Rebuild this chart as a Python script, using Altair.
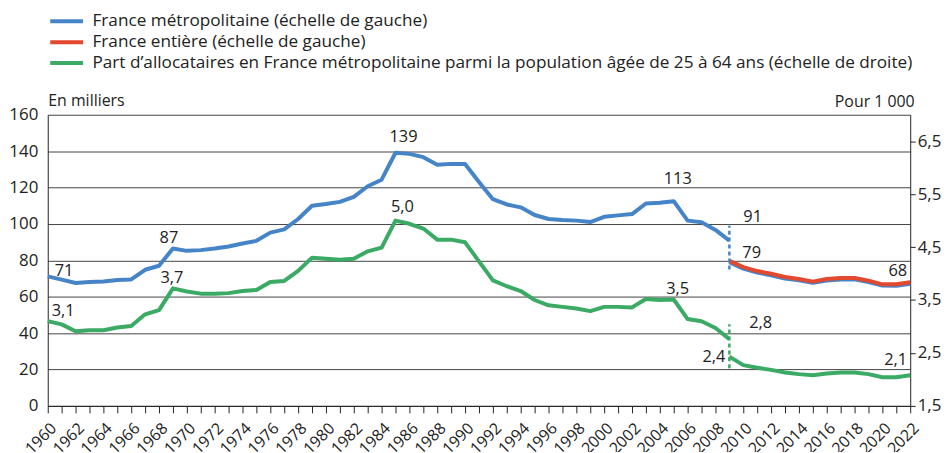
import altair as alt
import pandas as pd

# ---------------- data ----------------
SERIES = [
    "France métropolitaine (échelle de gauche)",
    "France entière (échelle de gauche)",
    "Part d’allocataires en France métropolitaine parmi la population âgée de 25 à 64 ans (échelle de droite)",
]
COLORS = ["#4684c8", "#e2492f", "#3aaa64"]

YEARS_A = list(range(1960, 2010))  # before the 2009 series break
YEARS_B = list(range(2009, 2023))  # after the 2009 series break

METRO_A = [71.2, 69.4, 67.5, 68.1, 68.4, 69.2, 69.5, 74.8, 77.0, 86.5,
           85.2, 85.6, 86.5, 87.6, 89.2, 90.7, 95.2, 97.0, 102.7, 110.0,
           110.9, 112.1, 114.9, 120.7, 124.3, 139.1, 138.5, 136.7, 132.5, 133.0,
           132.9, 123.0, 113.6, 110.7, 109.1, 104.9, 102.7, 102.1, 101.8, 101.0,
           103.9, 104.7, 105.4, 111.2, 111.6, 112.5, 101.8, 100.9, 96.7, 90.8]
METRO_B = [79.0, 75.4, 73.3, 71.8, 70.0, 69.0, 67.6, 68.9, 69.5, 69.5,
           68.0, 66.1, 66.0, 67.1]
ENTIERE_B = [79.7, 76.3, 74.1, 72.6, 70.8, 69.7, 68.3, 69.7, 70.3, 70.3,
             68.8, 66.8, 66.8, 67.9]
PART_A = [3.10, 3.04, 2.91, 2.93, 2.93, 2.98, 3.01, 3.23, 3.31, 3.72,
          3.66, 3.62, 3.62, 3.63, 3.67, 3.69, 3.84, 3.86, 4.05, 4.30,
          4.28, 4.26, 4.28, 4.42, 4.49, 5.00, 4.94, 4.85, 4.64, 4.64,
          4.59, 4.23, 3.87, 3.76, 3.67, 3.50, 3.40, 3.37, 3.34, 3.29,
          3.37, 3.37, 3.36, 3.52, 3.50, 3.51, 3.14, 3.10, 2.97, 2.76]
PART_B = [2.43, 2.27, 2.22, 2.18, 2.13, 2.10, 2.08, 2.11, 2.13, 2.13,
          2.10, 2.04, 2.04, 2.08]

BREAK_YEAR = 2009
BREAK_LEFT = [75, 99]       # extent of the dashed break marker (left scale)
BREAK_RIGHT = [2.21, 3.04]  # extent of the dashed break marker (right scale)

LEFT_LABEL_SERIES = ["metro_a", "metro_a", "metro_a", "metro_a", "metro_a", "entiere_b", "entiere_b"]
LEFT_LABEL_YEARS = [1960, 1969, 1985, 2005, 2009, 2009, 2022]
LEFT_LABEL_TEXTS = ["71", "87", "139", "113", "91", "79", "68"]

RIGHT_LABEL_SERIES = ["part_a", "part_a", "part_a", "part_a", "part_a", "part_b", "part_b"]
RIGHT_LABEL_YEARS = [1960, 1969, 1985, 2005, 2009, 2009, 2022]
RIGHT_LABEL_TEXTS = ["3,1", "3,7", "5,0", "3,5", "2,8", "2,4", "2,1"]

LEFT_TICKS = [0, 20, 40, 60, 80, 100, 120, 140, 160]
RIGHT_TICKS = [1.5, 2.5, 3.5, 4.5, 5.5, 6.5]
ALL_YEARS = list(range(1960, 2023))

# ---------------- styles ----------------
FONT = "Open Sans"
TXT = "#222222"
LEFT_LABEL_STYLE = [("left", 7, -5), ("center", -4, -11), ("center", 8, -16), ("center", 4, -22),
                    ("left", 14, -24), ("left", 13, -8), ("right", -3, -11)]
RIGHT_LABEL_STYLE = [("left", 4, -10), ("center", -1, -10), ("center", 7, -14), ("center", 4, -11),
                     ("left", 20, -16), ("right", -4, 0), ("right", -3, -15)]

series_data = {
    "metro_a": dict(zip(YEARS_A, METRO_A)),
    "metro_b": dict(zip(YEARS_B, METRO_B)),
    "entiere_b": dict(zip(YEARS_B, ENTIERE_B)),
    "part_a": dict(zip(YEARS_A, PART_A)),
    "part_b": dict(zip(YEARS_B, PART_B)),
}

df_metro = pd.concat([
    pd.DataFrame({"year": YEARS_A, "value": METRO_A, "serie": SERIES[0], "seg": "a"}),
    pd.DataFrame({"year": YEARS_B, "value": METRO_B, "serie": SERIES[0], "seg": "b"}),
])
df_entiere = pd.DataFrame({"year": YEARS_B, "value": ENTIERE_B, "serie": SERIES[1]})
df_part = pd.concat([
    pd.DataFrame({"year": YEARS_A, "value": PART_A, "serie": SERIES[2], "seg": "a"}),
    pd.DataFrame({"year": YEARS_B, "value": PART_B, "serie": SERIES[2], "seg": "b"}),
])


def x_enc():
    return alt.X(
        "year:Q",
        scale=alt.Scale(domain=[1960, 2022], nice=False, zero=False),
        axis=alt.Axis(
            values=ALL_YEARS, format="d",
            labelExpr="datum.value % 2 == 0 ? datum.label : ''",
            labelAngle=-45, labelAlign="right", labelBaseline="top",
            labelOverlap=False, labelFlush=False, labelBound=False,
            tickSize=7, tickColor="#222", domainColor="#222",
            labelFontSize=16, labelColor=TXT, labelPadding=7,
            grid=False, title=None,
        ),
    )


def y_left(field="value"):
    return alt.Y(
        f"{field}:Q",
        scale=alt.Scale(domain=[0, 160], nice=False, zero=True),
        axis=alt.Axis(
            orient="left", values=LEFT_TICKS, ticks=False, grid=True,
            gridColor="#444444", gridWidth=1, domainColor="#222",
            labelPadding=10, labelFontSize=17, labelColor=TXT,
            title="En milliers", titleAngle=0, titleX=0, titleY=-14,
            titleAlign="left", titleBaseline="middle", titleFontSize=16,
            titleFontWeight="normal", titleColor=TXT,
        ),
    )


def y_right(field="value"):
    return alt.Y(
        f"{field}:Q",
        scale=alt.Scale(domain=[1.5, 7.0], nice=False, zero=False),
        axis=alt.Axis(
            orient="right", values=RIGHT_TICKS,
            labelExpr="replace(format(datum.value, '.1f'), '.', ',')",
            tickSize=5, tickColor="#222", domainColor="#222", grid=False,
            labelPadding=2, labelFontSize=17, labelColor=TXT,
            title="Pour 1 000", titleAngle=0, titleX=4, titleY=-13,
            titleAlign="right", titleBaseline="middle", titleFontSize=16,
            titleFontWeight="normal", titleColor=TXT,
        ),
    )


def color_enc():
    return alt.Color(
        "serie:N",
        scale=alt.Scale(domain=SERIES, range=COLORS),
        legend=alt.Legend(
            title=None, orient="none", legendX=7, legendY=-106,
            symbolType="M-1.65,0H1.65", symbolSize=400, symbolStrokeWidth=4,
            labelFontSize=17.3, labelColor=TXT, labelOffset=14, labelLimit=1200,
            rowPadding=0, padding=0,
        ),
    )


line_props = dict(strokeWidth=4, strokeJoin="round")

blue = alt.Chart(df_metro).mark_line(**line_props).encode(
    x=x_enc(), y=y_left(), color=color_enc(), detail="seg:N")
red = alt.Chart(df_entiere).mark_line(**line_props).encode(
    x=x_enc(), y=y_left(), color=color_enc())
green = alt.Chart(df_part).mark_line(**line_props).encode(
    x=x_enc(), y=y_right(), color=color_enc(), detail="seg:N")

rule_left = alt.Chart(pd.DataFrame({"year": [BREAK_YEAR], "lo": [BREAK_LEFT[0]], "hi": [BREAK_LEFT[1]]})).mark_rule(
    color=COLORS[0], strokeDash=[4, 3], strokeWidth=2.5).encode(x=x_enc(), y=y_left("lo"), y2="hi:Q")
rule_right = alt.Chart(pd.DataFrame({"year": [BREAK_YEAR], "lo": [BREAK_RIGHT[0]], "hi": [BREAK_RIGHT[1]]})).mark_rule(
    color=COLORS[2], strokeDash=[4, 3], strokeWidth=2.5).encode(x=x_enc(), y=y_right("lo"), y2="hi:Q")


def labels(series_keys, years, texts, styles, yfun):
    out = []
    for key, yr, t, (al, dx, dy) in zip(series_keys, years, texts, styles):
        d = pd.DataFrame({"year": [yr], "value": [series_data[key][yr]], "txt": [t]})
        out.append(alt.Chart(d).mark_text(align=al, baseline="middle", dx=dx, dy=dy,
                                          fontSize=16.5, color=TXT).encode(
            x=x_enc(), y=yfun(), text="txt:N"))
    return out


left = alt.layer(blue, red, rule_left,
                 *labels(LEFT_LABEL_SERIES, LEFT_LABEL_YEARS, LEFT_LABEL_TEXTS, LEFT_LABEL_STYLE, y_left))
right = alt.layer(green, rule_right,
                  *labels(RIGHT_LABEL_SERIES, RIGHT_LABEL_YEARS, RIGHT_LABEL_TEXTS, RIGHT_LABEL_STYLE, y_right))

chart = alt.layer(left, right).resolve_scale(y="independent").properties(
    width=868, height=293,
    autosize=alt.AutoSizeParams(type="none"),
    padding={"left": 40, "top": 106, "right": 33, "bottom": 45},
).configure(font=FONT).configure_view(stroke=None)

chart.save("out.html", embed_options={"renderer": "svg", "actions": False})
